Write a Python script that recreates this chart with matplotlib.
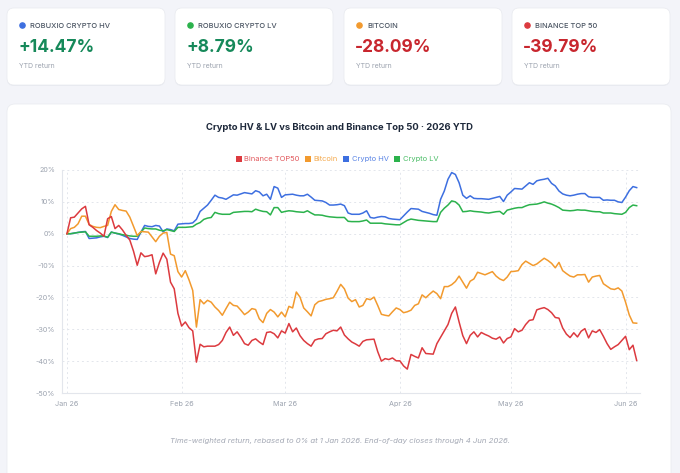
import numpy as np
import pandas as pd
import matplotlib
matplotlib.use('Agg')
import matplotlib.pyplot as plt
import matplotlib.dates as mdates
from matplotlib.patches import FancyBboxPatch, Patch

plt.rcParams['font.family'] = ['Inter', 'DejaVu Sans']

# daily closes, YTD return in %
dates = pd.date_range('2026-01-01', '2026-06-04', freq='D')

binance_top50 = [
    0, 5.0, 5.2, 6.5, 7.8, 8.6, 2.8, 2.0, 1.0, 0.2,
    -0.8, 4.7, 5.4, 1.6, 2.6, 1.2, -0.5, -2.0, -5.5, -9.9,
    -6.0, -7.2, -7.0, -6.6, -12.6, -9.0, -6.1, -8.0, -15.2, -17.3,
    -25.0, -29.0, -27.7, -29.5, -30.5, -40.3, -34.7, -35.5, -35.3, -35.3,
    -35.3, -34.8, -33.5, -31.0, -29.3, -31.9, -30.8, -32.5, -34.5, -35.0,
    -33.5, -33.0, -34.0, -34.8, -31.0, -30.8, -31.4, -32.7, -30.5, -31.2,
    -28.2, -30.8, -29.6, -32.0, -33.5, -34.5, -35.3, -33.4, -33.0, -32.9,
    -31.4, -30.8, -30.3, -30.5, -29.3, -31.8, -33.0, -34.0, -34.6, -35.3,
    -33.8, -33.3, -33.2, -33.1, -37.0, -40.0, -39.2, -39.5, -39.0, -39.9,
    -39.9, -41.5, -42.5, -37.9, -38.5, -39.0, -35.8, -37.6, -37.7, -37.8,
    -34.5, -32.5, -30.5, -28.5, -25.0, -23.0, -27.7, -32.0, -34.5, -31.9,
    -30.8, -32.4, -31.0, -31.6, -32.1, -32.8, -33.1, -32.4, -34.3, -32.9,
    -32.4, -29.8, -30.8, -30.3, -28.5, -27.2, -27.0, -23.9, -23.5, -23.2,
    -23.8, -24.8, -26.3, -26.5, -29.6, -31.5, -32.6, -31.1, -32.4, -30.6,
    -29.8, -32.7, -30.5, -31.0, -30.1, -32.2, -34.5, -36.3, -35.5, -34.8,
    -33.5, -32.2, -36.4, -35.0, -39.79,
]

bitcoin = [
    0, 1.6, 2.0, 3.1, 5.5, 5.5, 2.9, 2.3, 2.0, 1.9,
    2.3, 2.6, 7.0, 9.1, 7.6, 7.3, 7.1, 5.2, 2.3, -0.6,
    0.7, 0.6, 0.5, -1.0, -2.5, -0.8, 0.2, 0.4, -6.4, -6.9,
    -11.9, -13.6, -11.6, -14.5, -17.8, -29.3, -20.7, -22.0, -20.9, -21.5,
    -23.0, -24.1, -25.6, -23.5, -21.5, -22.5, -22.7, -24.0, -25.4, -24.6,
    -23.5, -23.8, -26.7, -27.9, -25.0, -23.8, -24.6, -26.1, -24.6, -26.1,
    -22.8, -23.3, -18.3, -19.9, -23.3, -24.5, -25.8, -22.3, -21.3, -21.0,
    -20.6, -20.4, -20.1, -18.1, -15.9, -17.3, -20.2, -21.3, -20.7, -23.0,
    -22.5, -20.4, -20.7, -19.9, -22.5, -25.3, -25.6, -25.8, -24.5, -23.3,
    -23.8, -24.8, -24.5, -24.0, -22.5, -22.0, -19.2, -20.1, -19.0, -18.0,
    -18.8, -20.4, -16.6, -16.6, -16.0, -15.0, -13.3, -15.2, -17.1, -14.9,
    -14.2, -12.1, -12.5, -12.9, -12.4, -11.9, -13.3, -14.2, -14.7, -13.6,
    -11.9, -11.8, -11.6, -9.7, -8.6, -9.3, -10.0, -9.5, -8.6, -7.7,
    -8.4, -9.3, -10.7, -9.0, -11.6, -12.5, -13.3, -13.6, -12.9, -12.9,
    -12.8, -15.2, -13.6, -13.3, -13.1, -15.7, -16.5, -17.3, -17.5, -17.0,
    -18.0, -21.5, -25.5, -28.0, -28.09,
]

crypto_hv = [
    0, 0, 0.2, 0.4, 0.6, 0.7, -1.5, -1.4, -1.3, -1.0,
    -0.8, -1.2, 0.5, 0.2, -0.1, -0.5, -1.0, -1.5, -1.7, -1.8,
    0.5, 2.6, 2.3, 2.2, 2.6, 2.4, 0.6, 1.5, 1.3, 0.9,
    3.0, 3.1, 3.2, 3.2, 3.4, 4.5, 7.0, 8.0, 9.0, 10.5,
    12.1, 11.4, 11.2, 10.8, 11.5, 12.2, 12.1, 12.5, 12.9, 12.7,
    12.5, 13.5, 13.1, 11.9, 12.4, 10.8, 14.8, 14.3, 11.4, 12.2,
    12.3, 12.4, 12.1, 11.9, 11.9, 12.4, 11.5, 10.5, 10.4, 10.3,
    9.8, 9.0, 9.0, 9.1, 9.3, 8.8, 6.5, 6.1, 6.1, 6.1,
    6.5, 7.2, 5.1, 4.9, 5.2, 5.4, 5.3, 4.8, 4.6, 4.5,
    4.4, 5.6, 6.8, 7.9, 7.8, 7.7, 7.0, 6.7, 6.4, 6.0,
    5.8, 10.8, 13.4, 17.1, 19.2, 18.6, 16.0, 12.1, 11.1, 11.9,
    11.1, 11.0, 11.0, 10.9, 10.8, 11.1, 11.4, 11.7, 10.1, 12.1,
    13.1, 14.2, 14.1, 14.0, 15.0, 16.0, 15.5, 16.6, 16.9, 17.1,
    17.4, 15.8, 15.0, 13.4, 12.5, 12.1, 11.9, 12.1, 12.4, 12.6,
    12.6, 11.6, 11.4, 11.4, 11.4, 10.5, 10.6, 10.5, 10.5, 10.0,
    9.8, 11.5, 13.5, 14.8, 14.47,
]

crypto_lv = [
    0, 0, 0.2, 0.4, 0.5, 0.6, -0.8, -0.8, -0.8, -0.7,
    -0.7, -1.1, 0.5, 0.2, 0, -0.3, -0.5, -0.7, -0.8, -0.8,
    0.5, 1.8, 1.6, 1.5, 1.5, 1.1, 0.9, 1.3, 1.0, 0.7,
    2.0, 2.0, 2.0, 2.1, 2.2, 3.0, 3.5, 4.5, 4.9, 5.1,
    6.7, 6.3, 6.1, 6.1, 6.1, 6.7, 6.8, 6.9, 7.0, 7.0,
    6.9, 7.7, 7.3, 7.0, 6.9, 5.9, 8.2, 8.2, 6.7, 7.0,
    7.2, 7.1, 6.9, 6.8, 6.7, 7.2, 6.5, 5.9, 5.9, 5.8,
    5.5, 5.3, 5.2, 5.1, 5.1, 5.1, 3.9, 3.8, 3.8, 3.8,
    4.0, 4.3, 3.3, 3.3, 3.3, 3.3, 3.1, 3.0, 2.9, 2.8,
    2.8, 3.5, 4.2, 4.6, 4.4, 4.2, 4.1, 4.0, 3.9, 3.8,
    3.8, 6.7, 8.0, 9.0, 10.3, 10.0, 9.0, 6.9, 7.0, 7.2,
    7.0, 6.9, 6.8, 6.6, 6.5, 6.7, 6.9, 7.0, 6.1, 7.4,
    7.7, 8.0, 8.2, 8.2, 8.7, 9.1, 9.2, 9.3, 9.6, 10.0,
    9.6, 9.3, 8.8, 8.2, 7.4, 7.3, 7.2, 7.3, 7.5, 7.4,
    7.4, 7.2, 7.0, 6.9, 6.9, 6.5, 6.5, 6.5, 6.3, 6.2,
    6.1, 6.7, 8.2, 9.0, 8.79,
]

card_names = ['ROBUXIO CRYPTO HV', 'ROBUXIO CRYPTO LV', 'BITCOIN', 'BINANCE TOP 50']
card_values = [14.47, 8.79, -28.09, -39.79]

c_hv = '#3d6fe0'
c_lv = '#2bb24c'
c_btc = '#f29a2e'
c_bn = '#dc3a3f'
card_colors = [c_hv, c_lv, c_btc, c_bn]

fig = plt.figure(figsize=(6.8, 4.73), dpi=100)
fig.patch.set_facecolor('#f3f4f9')

# background layer in pixel units
bg = fig.add_axes([0, 0, 1, 1])
bg.set_xlim(0, 680)
bg.set_ylim(473, 0)
bg.axis('off')

card_x = [7, 175, 344, 512]
for x0, name, val, col in zip(card_x, card_names, card_values, card_colors):
    # faint shadow then card
    bg.add_patch(FancyBboxPatch((x0, 9), 158, 77, boxstyle='round,pad=0,rounding_size=7',
                                facecolor='#e9ebf1', edgecolor='none'))
    bg.add_patch(FancyBboxPatch((x0, 8), 158, 77, boxstyle='round,pad=0,rounding_size=7',
                                facecolor='white', edgecolor='#e8eaef', linewidth=0.5))
    bg.scatter([x0 + 15], [25], s=14, color=col, zorder=3)
    bg.text(x0 + 23, 25.5, name, fontsize=5.4, fontweight='medium',
            color='#4b5563', va='center', ha='left')
    vcol = '#16895a' if val >= 0 else '#c8262e'
    bg.text(x0 + 11, 48, f'{val:+.2f}%', fontsize=12.5, fontweight='bold', color=vcol,
            va='center', ha='left')
    bg.text(x0 + 12, 66, 'YTD return', fontsize=5, color='#9ca3af', va='center', ha='left')

# chart card
bg.add_patch(FancyBboxPatch((7, 105), 664, 380, boxstyle='round,pad=0,rounding_size=8',
                            facecolor='#e9ebf1', edgecolor='none'))
bg.add_patch(FancyBboxPatch((7, 104), 664, 380, boxstyle='round,pad=0,rounding_size=8',
                            facecolor='white', edgecolor='#e8eaef', linewidth=0.5))
bg.text(339, 127, 'Crypto HV & LV vs Bitcoin and Binance Top 50 · 2026 YTD', fontsize=6.8,
        fontweight='bold', color='#1e293b', ha='center', va='center')
bg.text(340, 441, 'Time-weighted return, rebased to 0% at 1 Jan 2026. End-of-day closes through 4 Jun 2026.',
        fontsize=5.6, style='italic', color='#a3a8b4', ha='center', va='center')

ax = fig.add_axes([62 / 680, 80 / 473, 578 / 680, 223 / 473])
ax.set_facecolor('none')
ax.plot(dates, crypto_hv, color=c_hv, lw=1.1, zorder=3)
ax.plot(dates, crypto_lv, color=c_lv, lw=1.1, zorder=3)
ax.plot(dates, bitcoin, color=c_btc, lw=1.1, zorder=3)
ax.plot(dates, binance_top50, color=c_bn, lw=1.1, zorder=3)

ax.set_ylim(-50, 20)
ax.set_xlim(dates[0] - pd.Timedelta(hours=32), dates[0] + pd.Timedelta(days=154.9))
ax.set_yticks(np.arange(-50, 21, 10))
ax.set_yticklabels([f'{v}%' for v in range(-50, 21, 10)])
ax.xaxis.set_major_locator(mdates.MonthLocator())
ax.xaxis.set_major_formatter(mdates.DateFormatter('%b %y'))
ax.tick_params(length=0, labelsize=5.2, labelcolor='#9ca3af')
ax.tick_params(axis='y', pad=5)
ax.tick_params(axis='x', pad=6)
ax.grid(color='#e3e6ec', linestyle=(0, (2, 3)), linewidth=0.7)
for s in ['top', 'right']:
    ax.spines[s].set_visible(False)
for s in ['left', 'bottom']:
    ax.spines[s].set_color('#e3e6ec')
    ax.spines[s].set_linewidth(0.8)

handles = [Patch(facecolor=c_bn), Patch(facecolor=c_btc), Patch(facecolor=c_hv), Patch(facecolor=c_lv)]
labels = ['Binance TOP50', 'Bitcoin', 'Crypto HV', 'Crypto LV']
leg = fig.legend(handles, labels, loc='center', bbox_to_anchor=(337 / 680, 1 - 159 / 473), ncol=4,
                 frameon=False, fontsize=5.4, handlelength=0.8, handleheight=0.8,
                 handletextpad=0.35, columnspacing=0.7, borderpad=0)
for t, c in zip(leg.get_texts(), [c_bn, c_btc, c_hv, c_lv]):
    t.set_color(c)
    t.set_alpha(0.85)

fig.savefig('out.png', dpi=100, facecolor=fig.get_facecolor())
